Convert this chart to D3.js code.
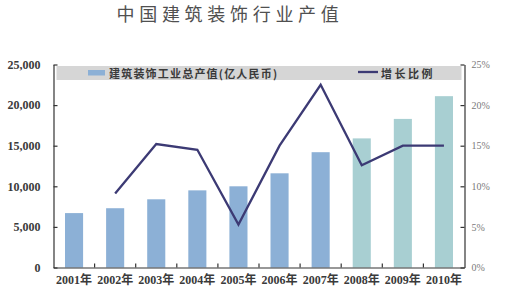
<!DOCTYPE html>
<html>
<head>
<meta charset="utf-8">
<script src="https://cdn.jsdelivr.net/npm/d3@7"></script>
<style>
  body { margin: 0; background: #fff; }
  svg { display: block; }
</style>
</head>
<body>
<script>
// chart values
var years = ["2001年", "2002年", "2003年", "2004年", "2005年", "2006年", "2007年", "2008年", "2009年", "2010年"];
var output = [6700, 7300, 8400, 9500, 10000, 11600, 14200, 15900, 18300, 21100];
var growth = [null, 0.091, 0.152, 0.145, 0.053, 0.15, 0.225, 0.126, 0.15, 0.15];
var forecastFrom = "2008年";
var leftTicks = [0, 5000, 10000, 15000, 20000, 25000];
var rightTicks = [0, 0.05, 0.1, 0.15, 0.2, 0.25];
var barLabel = "建筑装饰工业总产值(亿人民币)";
var lineLabel = "增长比例";
var title = "中国建筑装饰行业产值";

var width = 509, height = 294;
var plot = { left: 53.5, right: 464.5, top: 64.5, bottom: 267.5 };

var svg = d3.select("body").append("svg")
  .attr("width", width)
  .attr("height", height);

// scales
var x = d3.scaleBand()
  .domain(years)
  .range([plot.left, plot.right])
  .paddingInner(0.56)
  .paddingOuter(0.28);

var yLeft = d3.scaleLinear().domain([0, 25000]).range([plot.bottom, plot.top]);
var yRight = d3.scaleLinear().domain([0, 0.25]).range([plot.bottom, plot.top]);

// title
svg.append("text")
  .text(title)
  .attr("x", 230)
  .attr("y", 21)
  .attr("text-anchor", "middle")
  .attr("fill", "#505050")
  .style("font-family", "'Noto Sans CJK SC', sans-serif")
  .style("font-size", "18px")
  .style("letter-spacing", "4.7px");

// bars
var forecastIndex = years.indexOf(forecastFrom);
svg.append("g")
  .selectAll("rect")
  .data(years)
  .enter()
  .append("rect")
  .attr("x", (d) => x(d))
  .attr("width", x.bandwidth())
  .attr("y", (d, i) => yLeft(output[i]))
  .attr("height", (d, i) => yLeft(0) - yLeft(output[i]))
  .attr("fill", (d, i) => (i >= forecastIndex ? "#a8cfd2" : "#8cb0d6"));

// growth line
var line = d3.line()
  .defined((d) => d.v != null)
  .x((d) => x(d.year) + x.bandwidth() / 2)
  .y((d) => yRight(d.v));

svg.append("path")
  .datum(years.map((year, i) => ({ year: year, v: growth[i] })))
  .attr("d", line)
  .attr("fill", "none")
  .attr("stroke", "#3c3a74")
  .attr("stroke-width", 2.3)
  .attr("stroke-linejoin", "miter");

// legend band across the top of the plot
var legend = svg.append("g");
legend.append("rect")
  .attr("x", 56.5)
  .attr("y", 66)
  .attr("width", 405)
  .attr("height", 14)
  .attr("fill", "#d6d6d6");
legend.append("rect")
  .attr("x", 88)
  .attr("y", 70)
  .attr("width", 17)
  .attr("height", 5.5)
  .attr("fill", "#8cb0d6");
legend.append("text")
  .text(barLabel)
  .attr("x", 109)
  .attr("y", 77.5)
  .attr("fill", "#3a3a3a")
  .style("font-family", "'Noto Sans CJK SC', sans-serif")
  .style("font-weight", "bold")
  .style("font-size", "11px")
  .style("letter-spacing", "1.2px");
legend.append("line")
  .attr("x1", 358)
  .attr("x2", 378)
  .attr("y1", 72)
  .attr("y2", 72)
  .attr("stroke", "#3c3a74")
  .attr("stroke-width", 2.3);
legend.append("text")
  .text(lineLabel)
  .attr("x", 381)
  .attr("y", 77.5)
  .attr("fill", "#3a3a3a")
  .style("font-family", "'Noto Sans CJK SC', sans-serif")
  .style("font-weight", "bold")
  .style("font-size", "11px")
  .style("letter-spacing", "2.5px");

// axes
var leftAxis = d3.axisLeft(yLeft)
  .tickValues(leftTicks)
  .tickFormat(d3.format(","))
  .tickSizeInner(-4)
  .tickSizeOuter(0)
  .tickPadding(13);

var rightAxis = d3.axisRight(yRight)
  .tickValues(rightTicks)
  .tickFormat(d3.format(".0%"))
  .tickSizeInner(-4)
  .tickSizeOuter(0)
  .tickPadding(7);

var gLeft = svg.append("g")
  .attr("transform", `translate(${plot.left}, 0)`)
  .call(leftAxis);
gLeft.selectAll("text")
  .attr("fill", "#3a3a3a")
  .style("font-family", "'Liberation Serif', serif")
  .style("font-weight", "bold")
  .style("font-size", "12px");

var gRight = svg.append("g")
  .attr("transform", `translate(${plot.right}, 0)`)
  .call(rightAxis);
gRight.selectAll("text")
  .attr("fill", "#7a7a7a")
  .attr("text-anchor", "start")
  .style("font-family", "'Liberation Serif', serif")
  .style("font-size", "10px");

[gLeft, gRight].forEach((g) => {
  g.selectAll("path, line").attr("stroke", "#333").attr("stroke-width", 1.2);
});

// x axis: category labels plus ticks at the band boundaries
var bottomAxis = d3.axisBottom(x).tickSize(0).tickPadding(8);
var gBottom = svg.append("g")
  .attr("transform", `translate(0, ${plot.bottom})`)
  .call(bottomAxis);
gBottom.select(".domain").attr("stroke", "#333").attr("stroke-width", 1.2);
gBottom.selectAll("text")
  .attr("fill", "#3a3a3a")
  .style("font-family", "'Liberation Serif', 'Noto Sans CJK SC', serif")
  .style("font-weight", "bold")
  .style("font-size", "12px");

var gap = (x.step() - x.bandwidth()) / 2;
gBottom.selectAll(".boundary")
  .data(years.slice(1))
  .enter()
  .append("line")
  .attr("class", "boundary")
  .attr("x1", (d) => x(d) - gap)
  .attr("x2", (d) => x(d) - gap)
  .attr("y1", 0)
  .attr("y2", -4)
  .attr("stroke", "#333")
  .attr("stroke-width", 1.2);
</script>
</body>
</html>
